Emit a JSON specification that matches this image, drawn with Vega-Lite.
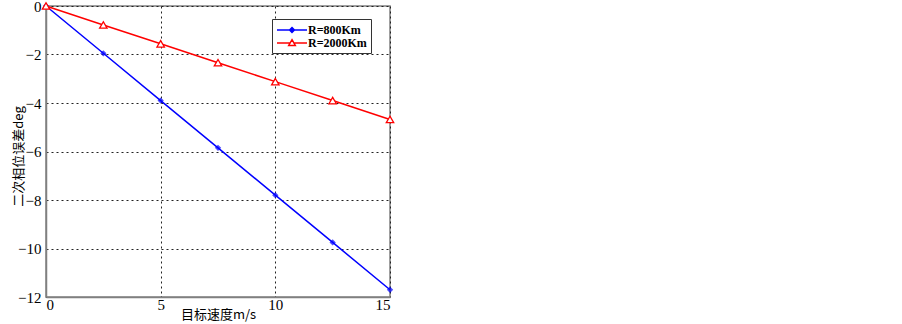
{
  "$schema": "https://vega.github.io/schema/vega-lite/v6.json",
  "autosize": "none",
  "width": 344,
  "height": 291,
  "padding": {"left": 46, "top": 6, "right": 512, "bottom": 27},
  "background": "white",
  "config": {
    "view": {"stroke": "#808080", "strokeWidth": 1.5},
    "font": "Liberation Serif"
  },
  "data": {
    "values": [
      {"v": 0, "e": 0, "s": "R=800Km"},
      {"v": 2.5, "e": -1.95, "s": "R=800Km"},
      {"v": 5, "e": -3.9, "s": "R=800Km"},
      {"v": 7.5, "e": -5.85, "s": "R=800Km"},
      {"v": 10, "e": -7.8, "s": "R=800Km"},
      {"v": 12.5, "e": -9.75, "s": "R=800Km"},
      {"v": 15, "e": -11.7, "s": "R=800Km"},
      {"v": 0, "e": 0, "s": "R=2000Km"},
      {"v": 2.5, "e": -0.78, "s": "R=2000Km"},
      {"v": 5, "e": -1.56, "s": "R=2000Km"},
      {"v": 7.5, "e": -2.34, "s": "R=2000Km"},
      {"v": 10, "e": -3.12, "s": "R=2000Km"},
      {"v": 12.5, "e": -3.9, "s": "R=2000Km"},
      {"v": 15, "e": -4.68, "s": "R=2000Km"}
    ]
  },
  "encoding": {
    "x": {
      "field": "v", "type": "quantitative",
      "scale": {"domain": [0, 15], "nice": false, "zero": false},
      "axis": {
        "values": [0, 5, 10, 15],
        "title": "目标速度m/s",
        "titleFont": "Noto Sans CJK SC",
        "titleFontSize": 13,
        "titleFontWeight": "normal",
        "titleColor": "black",
        "titleY": 11,
        "titleBaseline": "top",
        "labelFont": "Liberation Serif",
        "labelFontSize": 15,
        "labelColor": "black",
        "labelPadding": 0,
        "domainColor": "#808080",
        "domainWidth": 1.5,
        "ticks": false,
        "grid": true,
        "gridColor": "#222222",
        "gridDash": [2, 3],
        "gridWidth": 1,
        "gridOpacity": 1
      }
    },
    "y": {
      "field": "e", "type": "quantitative",
      "scale": {"domain": [-12, 0], "nice": false, "zero": false},
      "axis": {
        "values": [0, -2, -4, -6, -8, -10, -12],
        "labelExpr": "replace(datum.label, '-', '−')",
        "title": "二次相位误差deg",
        "titleFont": "Noto Sans CJK SC",
        "titleFontSize": 13,
        "titleFontWeight": "normal",
        "titleColor": "black",
        "titleX": -28,
        "titleY": 150,
        "titleBaseline": "middle",
        "labelFont": "Liberation Serif",
        "labelFontSize": 15,
        "labelColor": "black",
        "labelPadding": 5,
        "domainColor": "#808080",
        "domainWidth": 1.5,
        "ticks": false,
        "grid": true,
        "gridColor": "#222222",
        "gridDash": [2, 3],
        "gridWidth": 1,
        "gridOpacity": 1
      }
    }
  },
  "layer": [
    {
      "mark": {"type": "line", "strokeWidth": 1.5},
      "encoding": {
        "color": {
          "field": "s", "type": "nominal",
          "scale": {"domain": ["R=800Km", "R=2000Km"], "range": ["#0000ff", "#ff0000"]},
          "legend": {
            "title": null,
            "orient": "none",
            "legendX": 226,
            "legendY": 13,
            "direction": "vertical",
            "fillColor": "white",
            "strokeColor": "#333333",
            "padding": 4,
            "rowPadding": 0,
            "symbolSize": 144,
            "symbolStrokeWidth": 1.5,
            "labelFont": "Liberation Serif",
            "labelFontSize": 12,
            "labelFontWeight": "bold",
            "labelColor": "black",
            "labelOffset": 18,
            "encode": {
              "symbols": {
                "update": {
                  "shape": {"signal": "datum.value === 'R=800Km' ? 'M-1,0H4M1.5,-0.4L1.9,0L1.5,0.4L1.1,0Z' : 'M-1,0H1.15M1.85,0H4M1.5,-0.55L2.05,0.4L0.95,0.4Z'"},
                  "fill": {"signal": "datum.value === 'R=800Km' ? '#0000ff' : 'white'"},
                  "stroke": {"signal": "datum.value === 'R=800Km' ? '#0000ff' : '#ff0000'"}
                }
              }
            }
          }
        }
      }
    },
    {
      "transform": [{"filter": "datum.s === 'R=800Km'"}],
      "mark": {"type": "point", "shape": "diamond", "filled": true, "color": "#0000ff", "size": 40}
    },
    {
      "transform": [{"filter": "datum.s === 'R=2000Km'"}],
      "mark": {"type": "point", "shape": "triangle-up", "filled": false, "color": "#ff0000", "fill": "white", "fillOpacity": 1, "strokeWidth": 1.3, "size": 55}
    }
  ]
}
